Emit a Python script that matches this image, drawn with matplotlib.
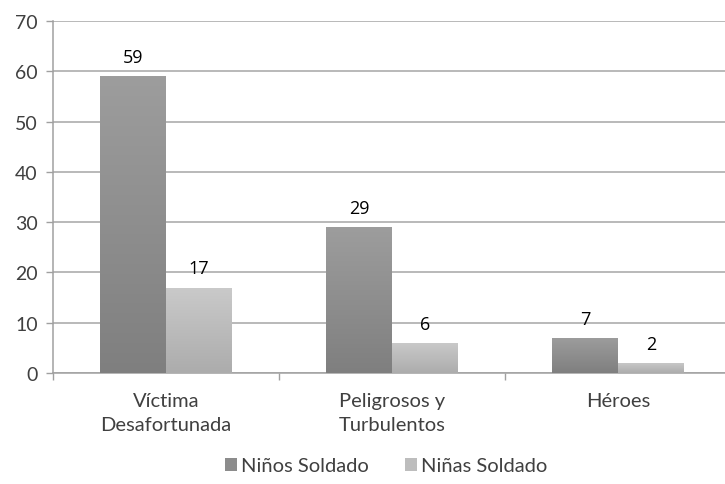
import numpy as np
import matplotlib
matplotlib.use("Agg")
import matplotlib.pyplot as plt
from matplotlib.colors import LinearSegmentedColormap
from matplotlib.patches import Patch

categories = ["Víctima\nDesafortunada", "Peligrosos y\nTurbulentos", "Héroes"]
ninos = [59, 29, 7]
ninas = [17, 6, 2]
series_names = ["Niños Soldado", "Niñas Soldado"]

plt.rcParams['font.family'] = ['Lato', 'DejaVu Sans']

fig = plt.figure(figsize=(7.25, 4.85), dpi=100)
ax = fig.add_axes([53 / 725, 111 / 485, 678 / 725, 352 / 485])

x = np.arange(len(categories))
width = 0.29

grads = [("#7f7f7f", "#9d9d9d"), ("#acacac", "#cacaca")]
solid = ["#8c8c8c", "#bdbdbd"]
grad = np.linspace(0, 1, 256).reshape(-1, 1)

for k, vals in enumerate([ninos, ninas]):
    offs = (k - 0.5) * width
    bars = ax.bar(x + offs, vals, width, color="none", zorder=3)
    cmap = LinearSegmentedColormap.from_list("g%d" % k, grads[k])
    for b, v in zip(bars, vals):
        x0 = b.get_x()
        im = ax.imshow(grad, extent=[x0, x0 + width, 0, v], origin="lower",
                       aspect="auto", cmap=cmap, zorder=3)
        im.set_clip_path(b)
        ax.text(x0 + width / 2, v + 2.0, str(v), ha="center", va="bottom",
                fontsize=13, color="black",
                family=["Open Sans", "DejaVu Sans"])

ax.set_xlim(-0.5, len(categories) - 0.5)
ax.set_ylim(0, 70)
ax.set_yticks(range(0, 71, 10))
ax.yaxis.grid(True, color="#a6a6a6", linewidth=1.1, zorder=0)
ax.set_axisbelow(True)

ax.set_xticks(x)
ax.set_xticklabels(categories, fontsize=14.5, color="#404040", linespacing=1.45)
ax.set_xticks(np.arange(len(categories) + 1) - 0.5, minor=True)
ax.tick_params(axis="x", which="major", length=0, pad=14)
ax.tick_params(axis="x", which="minor", length=5, color="#a0a0a0", width=1)
ax.tick_params(axis="y", length=5, color="#a0a0a0", width=1, labelsize=14,
               labelcolor="#404040", pad=6)

for s in ["top", "right"]:
    ax.spines[s].set_visible(False)
for s in ["left", "bottom"]:
    ax.spines[s].set_color("#a0a0a0")
    ax.spines[s].set_linewidth(1.1)

handles = [Patch(facecolor=solid[i], edgecolor="none") for i in range(2)]
fig.legend(handles, series_names, loc="center", bbox_to_anchor=(386 / 725, 1 - 467 / 485),
           ncol=2, frameon=False, fontsize=14.5, handlelength=0.6, handleheight=0.6,
           handletextpad=0.2, columnspacing=1.8, labelcolor="#404040")

fig.savefig("out.png", dpi=100)
